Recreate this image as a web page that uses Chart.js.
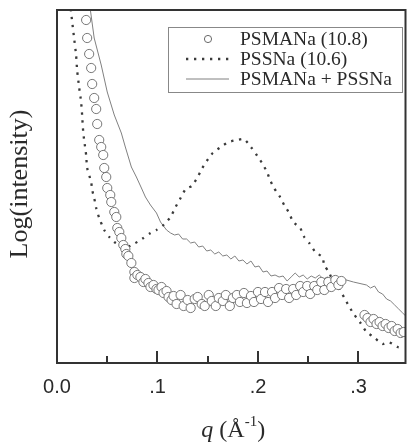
<!DOCTYPE html>
<html>
<head>
<meta charset="UTF-8">
<title>SAXS profiles</title>
<script src="https://cdn.jsdelivr.net/npm/chart.js"></script>
<style>
    body { margin: 0; background: #fff; }
    #wrap { width: 411px; height: 443px; }
</style>
</head>
<body>
<div id="wrap"><canvas id="saxs" width="411" height="443"></canvas></div>
<script>
// q in 1/Angstrom, intensity in arbitrary log units (no y scale on the original)
const seriesLabels = ['PSMANa (10.8)', 'PSSNa (10.6)', 'PSMANa + PSSNa'];

const qCircles = [0.029,0.030,0.032,0.034,0.035,0.037,0.039,0.040,0.042,0.044,0.046,0.047,0.049,0.050,0.053,0.054,0.057,0.059,0.060,0.062,
    0.064,0.066,0.068,0.069,0.071,0.074,0.077,0.077,0.080,0.083,0.086,0.088,0.091,0.093,0.096,0.099,0.101,0.104,0.106,0.109,0.111,0.114,
    0.116,0.119,0.123,0.126,0.130,0.133,0.137,0.140,0.144,0.147,0.151,0.154,0.158,0.161,0.165,0.168,0.172,0.175,0.179,0.182,0.186,0.189,
    0.193,0.196,0.200,0.203,0.207,0.210,0.214,0.217,0.221,0.224,0.228,0.231,0.235,0.238,0.242,0.245,0.249,0.252,0.256,0.259,0.263,0.266,
    0.270,0.273,0.277,0.280,0.283,
    0.306,0.309,0.312,0.315,0.318,0.321,0.324,0.327,0.330,0.333,0.336,0.339,0.342,0.345];
const iCircles = [343,325,309,295,279,265,254,239,223,216,208,195,186,175,168,161,151,146,135,131,
    125,118,114,109,107,100,91,85,88,86,81,84,80,76,78,74,73,76,70,72,66,63,
    67,59,68,57,63,55,64,66,59,57,68,62,57,65,62,68,57,65,68,61,70,60,
    67,61,71,64,71,61,71,65,75,68,74,65,74,68,77,71,77,69,77,73,81,73,
    81,76,83,78,82,
    48,45,41,44,39,41,37,39,35,37,32,34,30,31];

const qPSS = [0.013,0.014,0.017,0.019,0.020,0.022,0.024,0.025,0.026,0.027,0.029,0.030,0.034,0.035,0.037,0.039,0.042,0.047,0.052,0.057,
    0.062,0.068,0.078,0.086,0.093,0.099,0.106,0.113,0.118,0.123,0.128,0.134,0.140,0.144,0.149,0.155,0.163,0.171,0.179,0.186,
    0.193,0.198,0.204,0.209,0.212,0.216,0.222,0.226,0.231,0.235,0.242,0.246,0.251,0.257,0.264,0.266,0.271,0.275,0.281,0.286,
    0.291,0.296,0.302,0.308,0.315,0.324,0.330,0.339,0.345];
const iPSS = [362,351,325,308,293,276,261,248,232,223,208,195,181,173,165,155,145,133,126,121,
    118,115,120,125,130,133,138,146,156,165,174,177,186,194,202,210,216,221,223,224,
    216,209,200,191,183,175,166,158,150,141,135,126,120,111,106,98,90,81,74,65,
    56,48,40,31,26,19,21,16,15];

const qSum = [0.032,0.037,0.044,0.050,0.057,0.064,0.068,0.074,0.079,0.084,0.088,0.093,0.099,0.103,0.109,0.113,
    0.117,0.121,0.125,0.129,0.133,0.137,0.141,0.145,0.149,0.153,0.157,0.161,0.165,0.169,0.173,0.177,0.181,0.185,
    0.189,0.193,0.197,0.201,0.205,0.209,0.213,0.217,0.221,0.225,0.229,0.233,0.237,0.241,0.245,0.249,0.253,0.257,
    0.261,0.265,0.269,0.273,0.277,0.281,0.295,0.308,0.312,0.316,0.320,0.324,0.328,0.332,0.336,0.340,0.344,0.347];
const iSum = [362,325,298,271,248,230,216,196,186,175,166,158,150,141,133,130,
    128,129,124,124,120,121,116,117,112,113,109,111,107,108,104,107,102,103,
    99,102,96,97,91,92,87,88,86,87,82,86,90,86,88,84,87,85,
    88,84,86,83,86,85,81,78,75,77,71,69,64,62,58,54,50,47];

const xTickValues = [0, 0.1, 0.2, 0.3];
const xTickLabels = ['0.0', '.1', '.2', '.3'];
const xMinorTicks = [0.05, 0.15, 0.25];

const toPoints = (xs, ys) => xs.map((x, i) => ({ x: x, y: ys[i] }));

const ink = '#2a2a2a';

// frame, inward ticks, tick labels and axis titles
const axesPlugin = {
    id: 'axesPlugin',
    afterDraw(chart) {
        const { ctx, chartArea: a, scales } = chart;
        const xs = scales.x;
        ctx.save();
        ctx.strokeStyle = '#333';
        ctx.lineWidth = 2;
        ctx.strokeRect(a.left, a.top, a.right - a.left, a.bottom - a.top);

        ctx.lineWidth = 2;
        xTickValues.forEach(v => {
            const px = Math.round(xs.getPixelForValue(v));
            ctx.beginPath(); ctx.moveTo(px, a.bottom); ctx.lineTo(px, a.bottom - 12); ctx.stroke();
        });
        xMinorTicks.forEach(v => {
            const px = Math.round(xs.getPixelForValue(v));
            ctx.beginPath(); ctx.moveTo(px, a.bottom); ctx.lineTo(px, a.bottom - 7); ctx.stroke();
        });

        ctx.fillStyle = ink;
        ctx.font = '20px "Liberation Sans", Arial, sans-serif';
        ctx.textAlign = 'center';
        ctx.textBaseline = 'middle';
        xTickValues.forEach((v, i) => {
            ctx.fillText(xTickLabels[i], xs.getPixelForValue(v), a.bottom + 24);
        });

        // x title: q (Å^-1)
        const big = '24px "Liberation Serif", "Times New Roman", serif';
        const bigI = 'italic ' + big;
        const small = '15px "Liberation Serif", "Times New Roman", serif';
        const parts = [['q', bigI, 0], [' (Å', big, 0], ['-1', small, -11], [')', big, 0]];
        let w = 0;
        parts.forEach(p => { ctx.font = p[1]; w += ctx.measureText(p[0]).width; });
        let x = (a.left + a.right) / 2 + 2 - w / 2;
        ctx.textAlign = 'left';
        ctx.textBaseline = 'alphabetic';
        parts.forEach(p => {
            ctx.font = p[1];
            ctx.fillText(p[0], x, 437 + p[2]);
            x += ctx.measureText(p[0]).width;
        });

        // y title
        ctx.save();
        ctx.translate(20, 184);
        ctx.rotate(-Math.PI / 2);
        ctx.font = '26px "Liberation Serif", "Times New Roman", serif';
        ctx.textAlign = 'center';
        ctx.textBaseline = 'middle';
        ctx.fillText('Log(intensity)', 0, 0);
        ctx.restore();
        ctx.restore();
    }
};

// boxed legend inside the plot, top right
const legendBox = {
    id: 'legendBox',
    afterDraw(chart) {
        const ctx = chart.ctx;
        const box = { x: 168, y: 27, w: 234, h: 65 };
        ctx.save();
        ctx.fillStyle = '#fff';
        ctx.fillRect(box.x, box.y, box.w, box.h);
        ctx.strokeStyle = '#888';
        ctx.lineWidth = 1;
        ctx.strokeRect(box.x + 0.5, box.y + 0.5, box.w, box.h);

        const rows = [39, 59, 79];
        chart.data.datasets.forEach((ds, i) => {
            const y = rows[i];
            ctx.save();
            if (i === 0) {
                ctx.beginPath();
                ctx.arc(208, y, ds.pointRadius - 1, 0, Math.PI * 2);
                ctx.fillStyle = '#fff';
                ctx.fill();
                ctx.strokeStyle = ds.pointBorderColor;
                ctx.lineWidth = 1;
                ctx.stroke();
            } else {
                ctx.strokeStyle = ds.borderColor;
                ctx.lineWidth = ds.borderWidth;
                ctx.setLineDash(ds.borderDash || []);
                ctx.beginPath(); ctx.moveTo(186, y); ctx.lineTo(229, y); ctx.stroke();
            }
            ctx.restore();
            ctx.fillStyle = ink;
            ctx.font = '19.5px "Liberation Serif", "Times New Roman", serif';
            ctx.textAlign = 'left';
            ctx.textBaseline = 'middle';
            ctx.fillText(ds.label, 240, y + 1);
        });
        ctx.restore();
    }
};

new Chart(document.getElementById('saxs'), {
    type: 'scatter',
    data: {
        datasets: [
            {
                label: seriesLabels[0],
                data: toPoints(qCircles, iCircles),
                showLine: false,
                pointStyle: 'circle',
                pointRadius: 4.6,
                pointBorderWidth: 0.9,
                pointBorderColor: '#6a6a6a',
                pointBackgroundColor: '#fff',
                order: 1
            },
            {
                label: seriesLabels[1],
                data: toPoints(qPSS, iPSS),
                showLine: true,
                borderColor: '#3a3a3a',
                borderWidth: 2.3,
                borderDash: [2.3, 5.7],
                pointRadius: 0,
                tension: 0.2,
                order: 2
            },
            {
                label: seriesLabels[2],
                data: toPoints(qSum, iSum),
                showLine: true,
                borderColor: '#808080',
                borderWidth: 1,
                pointRadius: 0,
                tension: 0,
                order: 3
            }
        ]
    },
    options: {
        responsive: false,
        animation: false,
        layout: { padding: { left: 57, top: 10, right: 2, bottom: 80 } },
        scales: {
            x: { type: 'linear', min: 0, max: 0.3468, display: false },
            y: { type: 'linear', min: 0, max: 353, display: false }
        },
        plugins: {
            legend: { display: false },
            tooltip: { enabled: false }
        }
    },
    plugins: [axesPlugin, legendBox]
});
</script>
</body>
</html>
